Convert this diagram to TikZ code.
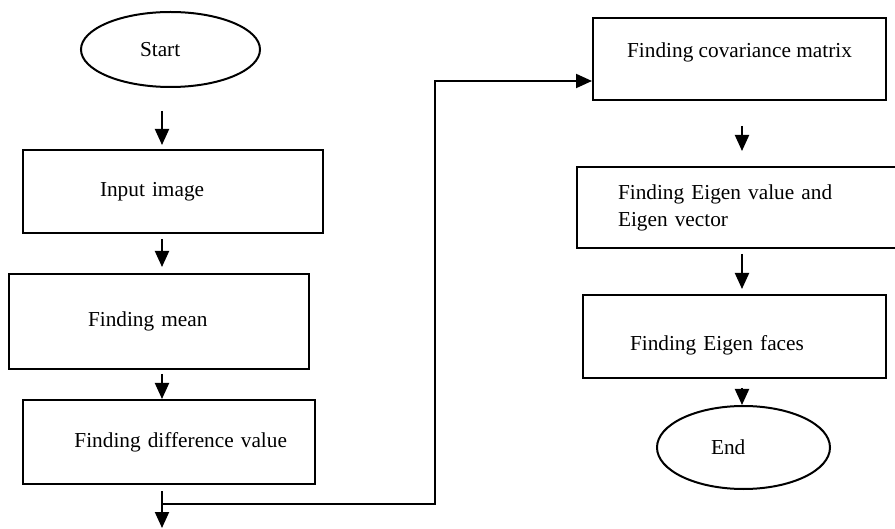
\documentclass[tikz,border=0pt]{standalone}
\usepackage{fontspec}
\setmainfont{Liberation Serif}
\usetikzlibrary{shapes.geometric,arrows.meta}

\begin{document}
\begin{tikzpicture}[x=0.5pt,y=-0.5pt]
	\tikzstyle{every node}=[font=\fontsize{10.65pt}{13.5pt}\selectfont]
	\tikzstyle{box}=[draw, line width=1pt, rectangle, inner sep=0pt]
	\tikzstyle{oval}=[draw, line width=1pt, ellipse, inner sep=0pt]
	\tikzstyle{flow}=[line width=1pt, -{Triangle[length=8pt,width=7pt]}]
	
	\clip (0,0) rectangle (895,529);
	
	% left column
	\node[oval, minimum width=89.5pt, minimum height=37.5pt, text width=30.5pt, align=left] (start) at (170.5,49.5) {Start};
	\node[box, minimum width=150pt, minimum height=41.5pt, text width=73pt, align=left] (input) at (173,191.5) {Input image};
	\node[box, minimum width=150pt, minimum height=47.5pt, text width=71pt, align=left] (mean) at (159,321.5) {Finding mean};
	\node[box, minimum width=146pt, minimum height=42pt, text width=118pt, align=right] (diff) at (169,442) {Finding difference value};
	
	% right column
	\node[box, minimum width=146.5pt, minimum height=41pt, text height=7.5pt, text depth=8.5pt] (cov) at (739.5,59) {Finding covariance matrix};
	\node[box, minimum width=162.5pt, minimum height=40.5pt, text width=121.5pt, align=left] (eig) at (739.5,207.5) {Finding Eigen value and\\Eigen vector};
	\node[box, minimum width=151.5pt, minimum height=41.5pt, text width=104.5pt, align=left, text height=17pt, text depth=2.5pt] (faces) at (734.5,336.5) {Finding Eigen faces};
	\node[oval, minimum width=86.5pt, minimum height=41.5pt, text width=32.5pt, align=left] (end) at (743.5,447.5) {End};
	
	\coordinate (lcol) at (162,0);
	\coordinate (rcol) at (742,0);
	\coordinate (bend) at (162,504);
	\coordinate (riser) at (435,504);
	\coordinate (exit) at (162,528);
	
	\draw[flow, shorten <=11.5pt, shorten >=2pt] (start.south -| lcol) -- (input.north -| lcol);
	\draw[flow, shorten <=2.5pt, shorten >=3pt] (input.south -| lcol) -- (mean.north -| lcol);
	\draw[flow, shorten <=2pt] (mean.south -| lcol) -- (diff.north -| lcol);
	\draw[flow, shorten <=3pt] (diff.south -| lcol) -- (exit);
	\draw[flow] (bend) -- (riser) |- ([yshift=-11pt]cov.west);
	
	\draw[flow, shorten <=12.5pt, shorten >=7.5pt] (cov.south -| rcol) -- (eig.north -| rcol);
	\draw[flow, shorten <=2.5pt, shorten >=2.5pt] (eig.south -| rcol) -- (faces.north -| rcol);
	\draw[flow, shorten <=4.5pt] (faces.south -| rcol) -- (end.north -| rcol);
	
\end{tikzpicture}
\end{document}
